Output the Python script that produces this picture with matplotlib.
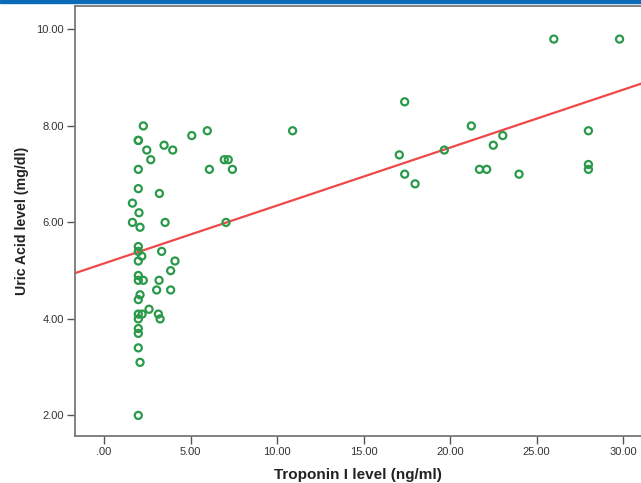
import numpy as np
import matplotlib
matplotlib.use('Agg')
import matplotlib.pyplot as plt
from matplotlib.patches import Rectangle

plt.rcParams['font.family'] = ['Liberation Sans', 'DejaVu Sans']

# Troponin I (ng/ml) vs uric acid (mg/dl)
troponin = [2.27, 1.98, 1.98, 2.47, 2.70, 3.47, 3.97, 5.07, 5.97, 1.98, 6.09,
            6.95, 7.18, 7.42, 1.98, 3.20, 1.64, 2.02, 1.64, 2.08, 3.53, 7.05,
            1.98, 1.98, 2.18, 1.98, 3.33, 4.10, 3.85, 1.98, 1.98, 2.27, 3.18,
            3.04, 3.85, 2.08, 1.98, 2.60, 1.98, 2.20, 1.98, 3.14, 3.24, 1.98,
            1.98, 1.98, 2.08, 1.98,
            26.0, 29.8, 17.38, 17.07, 17.38, 17.98, 19.67, 21.23, 21.70, 22.12,
            22.50, 23.05, 23.99, 28.0, 28.0, 28.0, 10.9]
uric = [8.0, 7.7, 7.7, 7.5, 7.3, 7.6, 7.5, 7.8, 7.9, 7.1, 7.1,
        7.3, 7.3, 7.1, 6.7, 6.6, 6.4, 6.2, 6.0, 5.9, 6.0, 6.0,
        5.5, 5.4, 5.3, 5.2, 5.4, 5.2, 5.0, 4.9, 4.8, 4.8, 4.8,
        4.6, 4.6, 4.5, 4.4, 4.2, 4.1, 4.1, 4.0, 4.1, 4.0, 3.8,
        3.7, 3.4, 3.1, 2.0,
        9.8, 9.8, 8.5, 7.4, 7.0, 6.8, 7.5, 8.0, 7.1, 7.1,
        7.6, 7.8, 7.0, 7.9, 7.2, 7.1, 7.9]

# fit line as drawn in the original (some points overlap, so not refit)
fit_intercept = 5.15
fit_slope = 0.120

xticks = [0, 5, 10, 15, 20, 25, 30]
yticks = [2, 4, 6, 8, 10]

fig = plt.figure(figsize=(6.41, 4.83), dpi=100)
ax = fig.add_axes([0.117, 0.097, 0.883, 0.89])

xlim = (-1.68, 31.04)
xx = np.array(xlim)
ax.plot(xx, fit_intercept + fit_slope * xx, color='#f04848', lw=1.6, zorder=2)
ax.scatter(troponin, uric, s=26, facecolors='none', edgecolors='#2a9a4a', linewidths=1.6, zorder=3)

ax.set_xlim(xlim)
ax.set_ylim(1.57, 10.48)
ax.set_xticks(xticks)
ax.set_xticklabels(['.00' if t == 0 else '%.2f' % t for t in xticks])
ax.set_yticks(yticks)
ax.set_yticklabels(['%.2f' % t for t in yticks])
ax.tick_params(direction='out', length=6, width=1, color='#555555', pad=2,
               labelsize=8, labelcolor='#333333')
for side in ['left', 'bottom', 'top']:
    ax.spines[side].set_color('#777777')
    ax.spines[side].set_linewidth(1.3)
ax.spines['right'].set_visible(False)

ax.set_xlabel('Troponin I level (ng/ml)', fontsize=11, fontweight='bold', color='#222222', labelpad=8)
ax.set_ylabel('Uric Acid level (mg/dl)', fontsize=10.2, fontweight='bold', color='#222222', labelpad=5)

# blue strip along the top edge
fig.patches.append(Rectangle((0, 0.994), 1, 0.006, transform=fig.transFigure,
                             color='#0a6cb8', zorder=5))

fig.savefig('out.png', dpi=100)
